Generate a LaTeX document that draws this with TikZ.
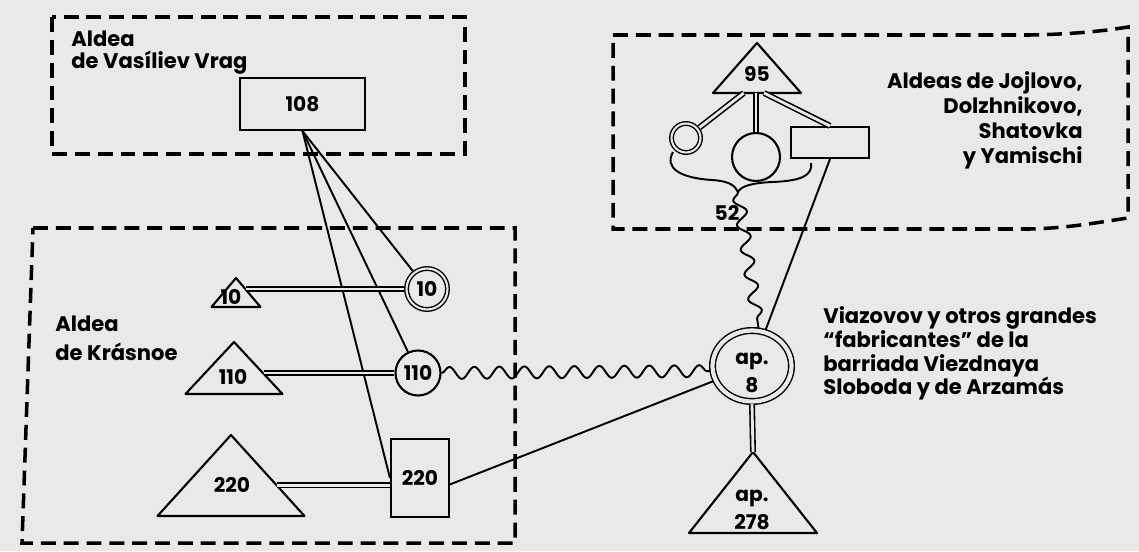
\documentclass[tikz,border=0pt]{standalone}
\usepackage{fontspec}
\setmainfont{Poppins}
\usetikzlibrary{positioning,calc,decorations.pathmorphing,shapes.geometric}
\definecolor{paper}{HTML}{E9E9E9}

% triangle drawn from its apex: name, apex x, apex y, half base, height
\newcommand{\trinode}[5]{%
  \coordinate (#1-a) at (#2,#3);
  \coordinate (#1-l) at ($(#1-a)+(-#4,#5)$);
  \coordinate (#1-r) at ($(#1-a)+(#4,#5)$);
  \draw[shp] (#1-a) -- (#1-l) -- (#1-r) -- cycle;}

\begin{document}
\begin{tikzpicture}[x=0.02cm, y=-0.02cm,
  shp/.style={line width=1.2pt, line join=round},
  zone/.style={line width=2pt, dash pattern=on 8.5pt off 4.5pt},
  box/.style={draw, rectangle, line width=1.2pt, inner sep=0pt},
  ring/.style={draw, circle, line width=1.2pt, inner sep=0pt},
  dring/.style={draw, circle, line width=0.8pt, double=paper,
                double distance=1.2pt, inner sep=0pt, outer sep=1.4pt},
  link/.style={line width=1.1pt},
  dlink/.style={line width=0.9pt, double=paper, double distance=1.6pt},
  wave/.style={line width=1.1pt, decorate,
               decoration={snake, segment length=0.5cm, amplitude=0.12cm}},
  lbl/.style={inner sep=0pt, align=left},
  num/.style={inner sep=0pt, font=\bfseries\fontsize{11.5}{16}\selectfont}
]
\useasboundingbox[fill=paper] (0,0) rectangle (1139,551);

% dashed zones
\draw[zone] (52,17) rectangle (465,154);
\draw[zone] (33,228) -- (515,228) -- (515,543) -- (22,543) -- cycle;
\draw[zone] (613,35) -- (1030,35) .. controls (1080,34) and (1110,30) .. (1128,27)
  -- (1128,218) .. controls (1100,222) and (1070,228) .. (1030,229) -- (613,229) -- cycle;

% zone labels
\node[lbl, anchor=north west, font=\bfseries\fontsize{12}{12}\selectfont] (vasiliev) at (71,31)
  {Aldea\\de Vasíliev Vrag};
\node[lbl, anchor=north west, font=\bfseries\fontsize{12}{16}\selectfont] (krasnoe) at (55,316)
  {Aldea\\de Krásnoe};
\node[lbl, align=right, anchor=north east, font=\bfseries\fontsize{12}{14.2}\selectfont] (jojlovo) at (1083,71)
  {Aldeas de Jojlovo,\\Dolzhnikovo,\\Shatovka\\y Yamischi};
\node[lbl, anchor=north west, font=\bfseries\fontsize{12}{13.6}\selectfont] (viazovov) at (823,306)
  {Viazovov y otros grandes\\``fabricantes'' de la\\barriada Viezdnaya\\Sloboda y de Arzamás};

% Vasiliev Vrag
\node[box, num, minimum width=2.5cm, minimum height=1.04cm] (n108) at (302.5,104) {108};

% Krasnoe
\trinode{t10}{236}{278}{24.5}{29}
\trinode{t110}{234}{342}{48.5}{52}
\trinode{t220}{231}{435}{73.5}{81}
\node[num] (t10) at (231,297) {10};
\node[num] (t110) at (233,377) {110};
\node[num] (t220) at (232,485) {220};
\node[dring, num, minimum size=0.82cm] (c10) at (427,289) {10};
\node[ring, num, minimum size=0.9cm] (c110) at (418,373) {110};
\node[box, num, minimum width=1.16cm, minimum height=1.56cm] (r220) at (420,478) {220};

% Jojlovo etc.
\trinode{t95}{757}{43}{44}{50}
\node[num] (t95) at (757,74) {95};
\node[dring, minimum size=0.58cm] (cs) at (686,138) {};
\node[ring, minimum size=0.96cm] (cm) at (756,157) {};
\node[box, minimum width=1.56cm, minimum height=0.62cm] (r95) at (830,142.5) {};
\coordinate (cusp) at (738,192);
\node[num] (n52) at (727,213) {52};

% Viazovov
\node[dring, ellipse, minimum width=1.58cm, minimum height=1.42cm,
      double distance=2.4pt] (ap8) at (752,366) {};
\node[num, align=center] (ap8t) at (752,373) {ap.\\8};
\trinode{t278}{753}{452}{64}{81}
\node[num, align=center] (t278) at (752,510) {ap.\\278};

% connectors
\draw[link] (n108.south) -- (c10);
\draw[link] (n108.south) -- (c110);
\draw[link] (n108.south) -- (r220.west);
\coordinate (t10-e) at ($(t10-a)!0.41!(t10-r)$);
\coordinate (t110-e) at ($(t110-a)!0.62!(t110-r)$);
\coordinate (t220-e) at ($(t220-a)!0.62!(t220-r)$);
\draw[dlink] (t10-e |- c10) -- (c10);
\draw[dlink] (t110-e |- c110) -- (c110);
\draw[dlink] (t220-e) -- (t220-e -| r220.west);
\draw[wave] (c110.east) -- (ap8.187);
\draw[link] (r220.-12) -- (ap8);
\draw[dlink] ($(t95-l)!0.35!(t95-r)$) -- (cs);
\draw[dlink] (cm.north |- t95-l) -- (cm.north);
\draw[dlink] ($(t95-l)!0.58!(t95-r)$) -- (r95.north);
\draw[link] (673,152) .. controls (664,168) and (680,178) .. (712,180)
  .. controls (728,181) and (735,185) .. (cusp);
\draw[link] (811,163) .. controls (813,176) and (800,181) .. (772,182)
  .. controls (752,183) and (741,186) .. (cusp);
\draw[wave, decoration={mirror}] (cusp) -- (ap8.80);
\draw[link] (r95.south) -- (ap8);
\draw[dlink] (ap8.south) -- (t278-a);
\end{tikzpicture}
\end{document}
